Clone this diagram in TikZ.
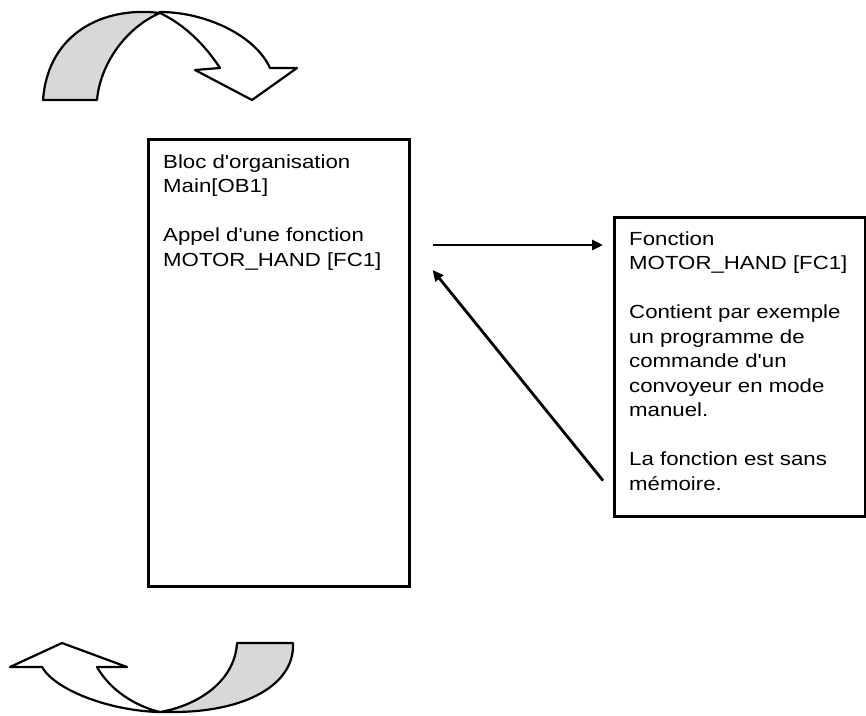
\documentclass[tikz,border=0pt]{standalone}
\usepackage{fontspec}
\setmainfont{Liberation Sans}
\newfontfamily\blockfont[FakeStretch=1.17]{Liberation Sans}
\usetikzlibrary{arrows.meta,calc}
\definecolor{ribbongray}{RGB}{216,216,216}

\begin{document}
\begin{tikzpicture}[x=1pt,y=-1pt,
  blockbox/.style={draw=black, line width=2.6pt, fill=white, inner sep=0pt, anchor=north west},
  blocktext/.style={anchor=north west, inner sep=0pt, align=left,
    font=\blockfont\fontsize{19}{24.5}\selectfont},
  flow/.style={line width=2.8pt, -{Triangle[length=11pt,width=10pt]}},
  ribbon/.style={draw=black, line width=2.2pt, line join=round}]
\useasboundingbox (0,0) rectangle (866,715);

% cycle arrow above the organisation block
\filldraw[ribbon, fill=ribbongray]
  (43,100) -- (97,100) .. controls (100,65) and (125,28) .. (160,13)
  .. controls (105,6) and (48,32) .. (43,100) -- cycle;
\filldraw[ribbon, fill=white]
  (160,12) .. controls (205,12) and (255,35) .. (270,68) -- (297,68) -- (252,100)
  -- (195,70) -- (220,68) .. controls (205,45) and (185,25) .. (160,13) -- cycle;

% cycle arrow below the organisation block
\filldraw[ribbon, fill=ribbongray]
  (237,643) -- (293,643) .. controls (295,685) and (245,712) .. (173,712)
  -- (160,712) .. controls (200,705) and (235,680) .. (237,643) -- cycle;
\filldraw[ribbon, fill=white]
  (160,712) .. controls (110,711) and (55,690) .. (42,667) -- (10,667) -- (62,643)
  -- (127,667) -- (97,667) .. controls (110,690) and (135,706) .. (160,712) -- cycle;

% blocks
\node[blockbox, minimum width=261pt, minimum height=447pt] (ob1) at (147,138) {};
\node[blockbox, minimum width=251pt, minimum height=299pt] (fc1) at (613,216) {};

\node[blocktext] (ob1txt) at (163,154.5)
  {Bloc d'organisation\\Main[OB1]\\[24.5pt]Appel d'une fonction\\MOTOR\_HAND [FC1]};
\node[blocktext] (fc1txt) at (629,231.5)
  {Fonction\\MOTOR\_HAND [FC1]\\[24.5pt]Contient par exemple\\un programme de\\commande d'un\\convoyeur en mode\\manuel.\\[24.5pt]La fonction est sans\\mémoire.};

% call and return
\coordinate (callfrom) at ($(ob1.north east)+(22,107)$);
\coordinate (callto) at ($(fc1.west |- callfrom)+(-10,0)$);
\coordinate (retfrom) at ($(fc1.south west)+(-10,-37)$);
\coordinate (retto) at ($(callfrom)+(0,25)$);
\draw[flow] (callfrom) -- (callto);
\draw[flow] (retfrom) -- (retto);
\end{tikzpicture}
\end{document}
